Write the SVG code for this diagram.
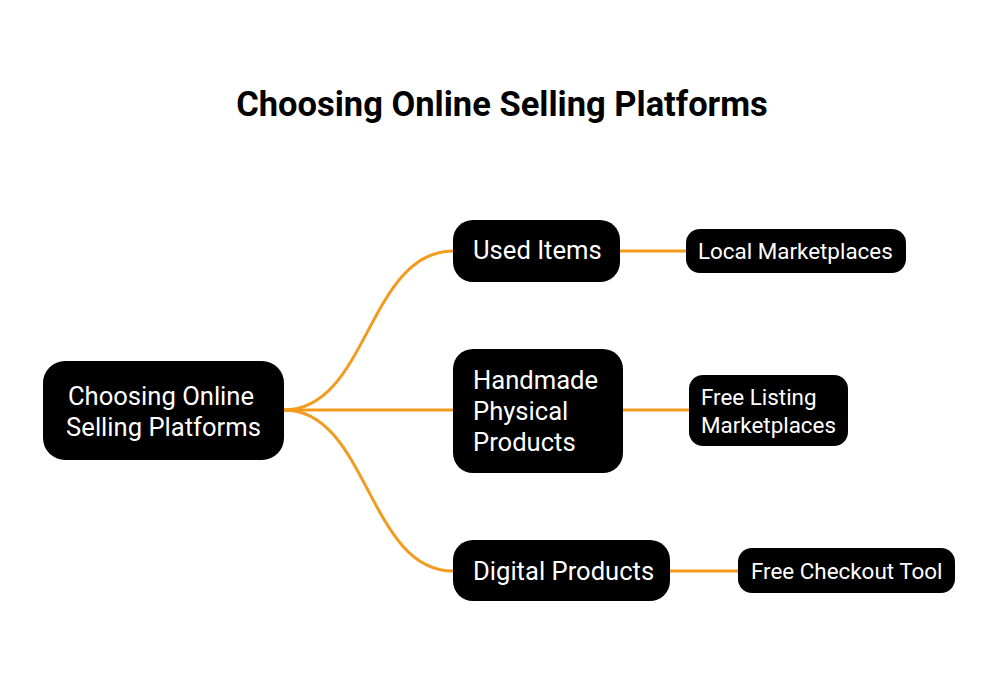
<svg xmlns="http://www.w3.org/2000/svg" width="1000" height="687" viewBox="0 0 1000 687">
<style>
.box{fill:#000}
.t{font-family:Roboto,"Liberation Sans",sans-serif;fill:#fff}
.l{font-size:25.6px}
.s{font-size:22.4px}
.c{fill:none;stroke:#F29B1F;stroke-width:3}
</style>
<rect width="1000" height="687" fill="#fff"/>
<text x="502" y="116" text-anchor="middle" font-family="Roboto,'Liberation Sans',sans-serif" font-weight="bold" font-size="34.5" fill="#000">Choosing Online Selling Platforms</text>
<g id="connectors">
<path class="c" d="M284,410 C368,410 368,251 453,251"/>
<path class="c" d="M284,410 L453,410"/>
<path class="c" d="M284,410 C368,410 368,571 453,571"/>
<path class="c" d="M620,251 L686,251"/>
<path class="c" d="M623,410 L689,410"/>
<path class="c" d="M670,571 L738,571"/>
</g>
<g id="root">
<rect class="box" x="43" y="361" width="241" height="99" rx="22"/>
<text class="t l" x="161" y="405" text-anchor="middle">Choosing Online</text>
<text class="t l" x="163.5" y="436" text-anchor="middle">Selling Platforms</text>
</g>
<g id="used">
<rect class="box" x="453" y="220" width="167" height="62" rx="20"/>
<text class="t l" x="473" y="259">Used Items</text>
</g>
<g id="local">
<rect class="box" x="686" y="229" width="220" height="44" rx="14"/>
<text class="t s" x="698" y="259">Local Marketplaces</text>
</g>
<g id="handmade">
<rect class="box" x="453" y="349" width="170" height="124" rx="20"/>
<text class="t l" x="473" y="389">Handmade</text>
<text class="t l" x="473" y="420">Physical</text>
<text class="t l" x="473" y="451">Products</text>
</g>
<g id="freelisting">
<rect class="box" x="689" y="375" width="159" height="71" rx="14"/>
<text class="t s" x="701" y="405">Free Listing</text>
<text class="t s" x="701" y="433">Marketplaces</text>
</g>
<g id="digital">
<rect class="box" x="453" y="540" width="217" height="61" rx="20"/>
<text class="t l" x="473" y="580">Digital Products</text>
</g>
<g id="checkout">
<rect class="box" x="738" y="548" width="217" height="45" rx="14"/>
<text class="t s" x="751" y="579">Free Checkout Tool</text>
</g>
</svg>
